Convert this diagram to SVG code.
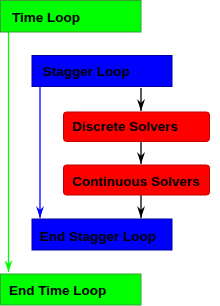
<svg xmlns="http://www.w3.org/2000/svg" width="220" height="306" viewBox="0 0 220 306">
<style>
.g{fill:#00ff00;stroke:#33a033;stroke-width:1}
.b{fill:#0000ff;stroke:#0000a0;stroke-width:1}
.r{fill:#ff0000;stroke:#c00000;stroke-width:1}
text{font-family:"Liberation Sans",Arial,sans-serif;font-weight:bold;font-size:13.5px;fill:#000}
.cg{stroke:#00ff00;stroke-width:1.3;fill:none}
.cb{stroke:#0000ff;stroke-width:1.3;fill:none}
.ck{stroke:#000;stroke-width:1.3;fill:none}
</style>
<defs>
<marker id="ag" markerWidth="8" markerHeight="12" refX="4" refY="12" markerUnits="userSpaceOnUse" viewBox="0 0 8 12"><path d="M0,0 L4,12 L8,0 L4,4 Z" fill="#00ff00"/></marker>
<marker id="ab" markerWidth="8" markerHeight="12" refX="4" refY="12" markerUnits="userSpaceOnUse" viewBox="0 0 8 12"><path d="M0,0 L4,12 L8,0 L4,4 Z" fill="#0000ff"/></marker>
<marker id="ak" markerWidth="8" markerHeight="12" refX="4" refY="12" markerUnits="userSpaceOnUse" viewBox="0 0 8 12"><path d="M0,0 L4,12 L8,0 L4,4 Z" fill="#000"/></marker>
</defs>
<g id="connectors">
<path class="cg" d="M8.5,32 V272" marker-end="url(#ag)"/>
<path class="cb" d="M40,86 V218" marker-end="url(#ab)"/>
<path class="ck" d="M141,88 V111" marker-end="url(#ak)"/>
<path class="ck" d="M141,141 V164" marker-end="url(#ak)"/>
<path class="ck" d="M141,195 V218" marker-end="url(#ak)"/>
</g>
<g id="time-loop"><rect class="g" x="0.5" y="0.5" width="140.5" height="31.5"/><text x="12" y="22">Time Loop</text></g>
<g id="stagger-loop"><rect class="b" x="32" y="55.5" width="140" height="31"/><text x="43" y="76">Stagger Loop</text></g>
<g id="discrete-solvers"><rect class="r" x="63.5" y="112" width="146" height="29.5" rx="3"/><text x="72" y="131">Discrete Solvers</text></g>
<g id="continuous-solvers"><rect class="r" x="63.5" y="165" width="146" height="30" rx="3"/><text x="72" y="186">Continuous Solvers</text></g>
<g id="end-stagger-loop"><rect class="b" x="32" y="219" width="140" height="31"/><text x="40" y="241">End Stagger Loop</text></g>
<g id="end-time-loop"><rect class="g" x="0.5" y="274" width="140.5" height="31"/><text x="9" y="295">End Time Loop</text></g>
</svg>
